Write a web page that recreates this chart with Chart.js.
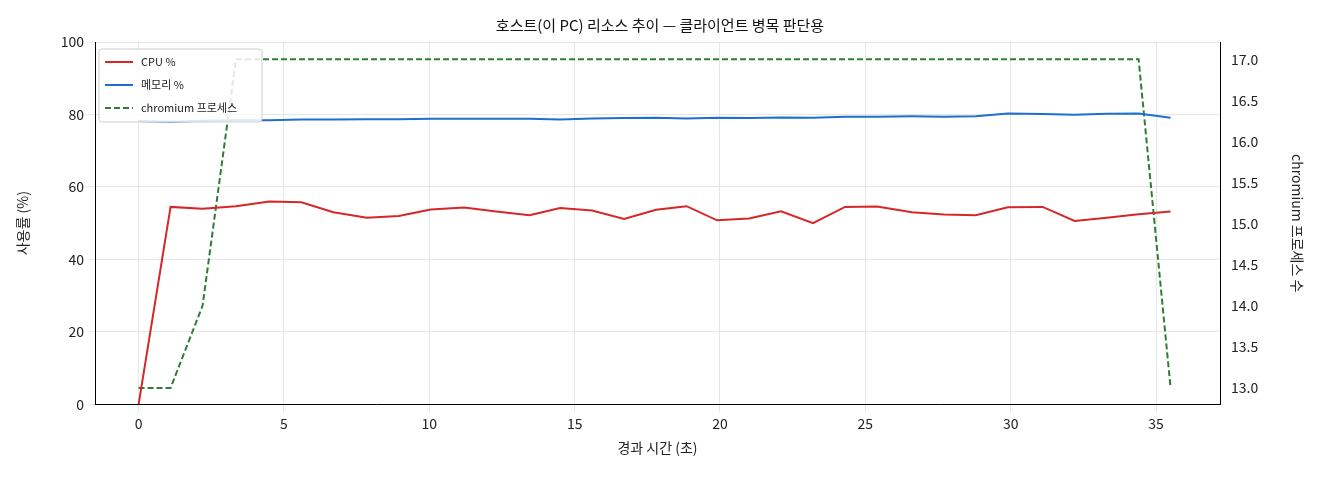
<!DOCTYPE html>
<html><head><meta charset="utf-8">
<script src="https://cdn.jsdelivr.net/npm/chart.js@4/dist/chart.umd.min.js"></script>
<style>html,body{margin:0;background:#fff}#w{width:1320px;height:480px}</style>
</head><body><div id="w"><canvas id="c"></canvas></div>
<script>
const times=[0,1.1,2.2,3.35,4.5,5.6,6.7,7.85,8.95,10.05,11.2,12.3,13.45,14.5,15.6,16.7,17.8,18.85,19.9,21.0,22.1,23.2,24.3,25.4,26.6,27.7,28.8,29.9,31.1,32.2,33.3,34.4,35.5];
const cpu=[0,54.5,54,54.7,56,55.8,53,51.5,52,53.8,54.3,53.2,52.2,54.2,53.5,51.2,53.7,54.7,50.8,51.3,53.3,50,54.5,54.6,53,52.4,52.2,54.4,54.5,50.6,51.5,52.5,53.2];
const mem=[78.2,78.0,78.3,78.4,78.4,78.6,78.6,78.7,78.7,78.8,78.8,78.8,78.8,78.6,78.9,79.0,79.1,78.9,79.1,79.0,79.2,79.1,79.4,79.4,79.5,79.4,79.5,80.3,80.1,79.9,80.2,80.3,79.1];
const procs=[13,13,14,17,17,17,17,17,17,17,17,17,17,17,17,17,17,17,17,17,17,17,17,17,17,17,17,17,17,17,17,17,13];
const labels=['CPU %','메모리 %','chromium 프로세스'];
const F="'Noto Sans CJK KR','DejaVu Sans',sans-serif";
Chart.defaults.font.family=F;Chart.defaults.color='#222';
const xy=a=>a.map((v,i)=>({x:times[i],y:v}));
const legendPlug={id:'lg',afterDraw(ch){const c=ch.ctx,a=ch.chartArea;const x=a.left+4,y=a.top+7;
c.save();c.fillStyle='rgba(255,255,255,0.85)';c.strokeStyle='#ccc';c.lineWidth=1;
c.beginPath();c.roundRect(x,y,163,73,3);c.fill();c.stroke();
ch.data.datasets.forEach((d,i)=>{const yy=y+13+i*23;c.strokeStyle=d.borderColor;c.lineWidth=2;c.setLineDash(d.borderDash||[]);
c.beginPath();c.moveTo(x+6,yy);c.lineTo(x+34,yy);c.stroke();c.setLineDash([]);c.fillStyle='#222';c.font="11px "+F;c.textBaseline='middle';c.fillText(d.label,x+42,yy);});
c.restore();}};
new Chart(document.getElementById('c'),{type:'line',
data:{datasets:[
{label:labels[0],data:xy(cpu),borderColor:'#d62728',borderWidth:2,pointRadius:0,yAxisID:'y'},
{label:labels[1],data:xy(mem),borderColor:'#1f6fd0',borderWidth:2,pointRadius:0,yAxisID:'y'},
{label:labels[2],data:xy(procs),borderColor:'#2e7d32',borderWidth:2,borderDash:[6,3],pointRadius:0,yAxisID:'y2'}]},
options:{responsive:true,maintainAspectRatio:false,animation:false,
layout:{padding:{left:10,right:10,top:8,bottom:20}},
plugins:{legend:{display:false},tooltip:{enabled:false},
title:{display:true,text:'호스트(이 PC) 리소스 추이 — 클라이언트 병목 판단용',font:{size:15,weight:'normal'},color:'#111',padding:{top:8,bottom:8}}},
scales:{
x:{type:'linear',min:-1.5,max:37.2,ticks:{font:{size:14}},afterBuildTicks:s=>{s.ticks=[0,5,10,15,20,25,30,35].map(v=>({value:v}));},
title:{display:true,text:'경과 시간 (초)',font:{size:14}},grid:{color:'#e6e6e6'},border:{color:'#000'}},
y:{min:0,max:100,ticks:{stepSize:20,font:{size:14}},title:{display:true,text:'사용률 (%)',font:{size:14}},grid:{color:'#e6e6e6'},border:{color:'#000'},afterFit:s=>{s.width=85;}},
y2:{position:'right',min:12.8,max:17.21,afterBuildTicks:s=>{s.ticks=[13,13.5,14,14.5,15,15.5,16,16.5,17].map(v=>({value:v}));},
ticks:{font:{size:14},callback:v=>v.toFixed(1)},title:{display:true,text:'chromium 프로세스 수',font:{size:14}},grid:{display:false},border:{color:'#000'},afterFit:s=>{s.width=90;}}
}},plugins:[legendPlug]});
</script></body></html>
